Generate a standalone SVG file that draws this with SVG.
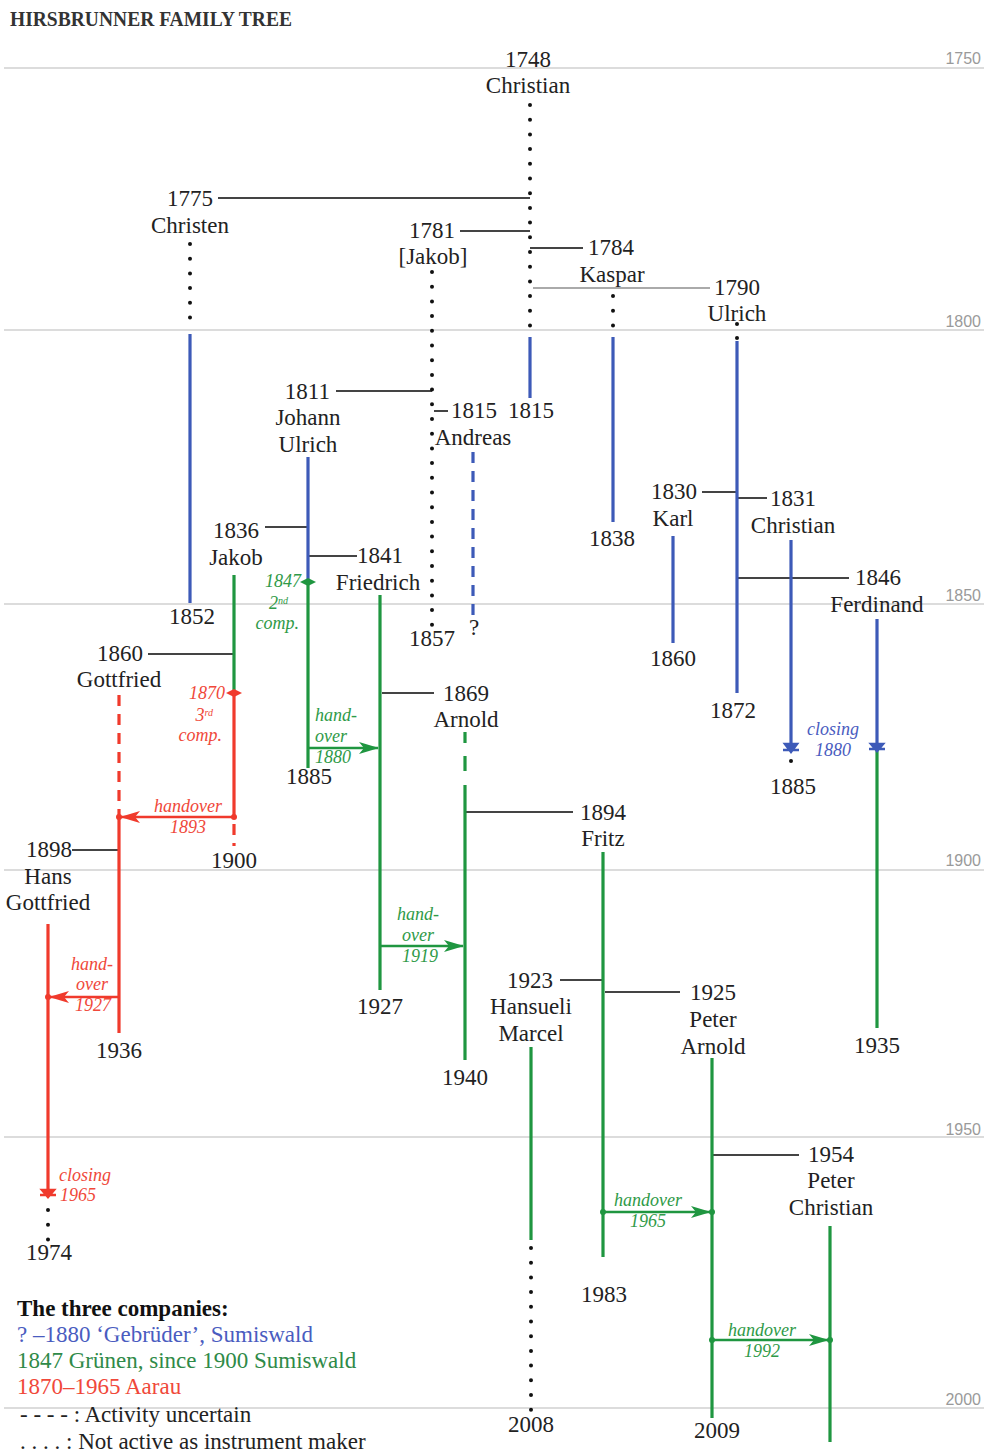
<svg xmlns="http://www.w3.org/2000/svg" width="984" height="1452" viewBox="0 0 984 1452">
<style>
.t{font-family:"Liberation Serif",serif;font-size:23px;fill:#222}
.m{text-anchor:middle}.e{text-anchor:end}
.i{font-family:"Liberation Serif",serif;font-style:italic;font-size:18px}
.gi{fill:#2f9a48}.ri{fill:#f0483a}.bi{fill:#4a5cc0}
.ax{font-family:"Liberation Sans",sans-serif;font-size:16px;fill:#9a9a9a;text-anchor:end}
.grid{stroke:#dcdcdc;stroke-width:2}
.c{stroke:#444;stroke-width:2;fill:none}
.b{stroke:#3d5ab8;stroke-width:3.2;fill:none}
.g{stroke:#1f9640;stroke-width:3.2;fill:none}
.r{stroke:#f03a2c;stroke-width:3.2;fill:none}
.d{stroke:#111;stroke-width:4;stroke-linecap:round;stroke-dasharray:0 14.7;fill:none}
.bd{stroke:#3d5ab8;stroke-width:3.2;stroke-dasharray:11 8;fill:none}
.rd{stroke:#f03a2c;stroke-width:3.2;stroke-dasharray:11 8;fill:none}
.ga{stroke:#1f9640;stroke-width:2.5;fill:none;marker-end:url(#ag)}
.ra{stroke:#f03a2c;stroke-width:2.5;fill:none;marker-end:url(#ar)}
</style>
<defs>
<marker id="ag" viewBox="0 0 20 12" refX="19" refY="6" markerWidth="20" markerHeight="12" markerUnits="userSpaceOnUse" orient="auto"><path d="M0,0 L20,6 L0,12 L5,6 Z" fill="#1f9640"/></marker>
<marker id="ar" viewBox="0 0 20 12" refX="19" refY="6" markerWidth="20" markerHeight="12" markerUnits="userSpaceOnUse" orient="auto"><path d="M0,0 L20,6 L0,12 L5,6 Z" fill="#f03a2c"/></marker>
</defs>
<rect width="984" height="1452" fill="#fff"/>
<text x="10" y="26" font-family="Liberation Serif,serif" font-weight="bold" font-size="20" fill="#333" textLength="282" lengthAdjust="spacingAndGlyphs">HIRSBRUNNER FAMILY TREE</text>
<g id="axis">
<line class="grid" x1="4" y1="68" x2="984" y2="68"/><text class="ax" x="981" y="64">1750</text>
<line class="grid" x1="4" y1="330" x2="984" y2="330"/><text class="ax" x="981" y="327">1800</text>
<line class="grid" x1="4" y1="604" x2="984" y2="604"/><text class="ax" x="981" y="601">1850</text>
<line class="grid" x1="4" y1="870" x2="984" y2="870"/><text class="ax" x="981" y="866">1900</text>
<line class="grid" x1="4" y1="1137" x2="984" y2="1137"/><text class="ax" x="981" y="1135">1950</text>
<line class="grid" x1="4" y1="1408" x2="984" y2="1408"/><text class="ax" x="981" y="1405">2000</text>
</g>
<g id="connectors">
<line class="c" x1="218" y1="198" x2="530" y2="198"/>
<line class="c" x1="460" y1="231" x2="530" y2="231"/>
<line class="c" x1="530" y1="248" x2="583" y2="248"/>
<line stroke="#aaa" stroke-width="2" x1="533" y1="288" x2="710" y2="288"/>
<line class="c" x1="336" y1="391" x2="432" y2="391"/>
<line class="c" x1="434" y1="411" x2="448" y2="411"/>
<line class="c" x1="702" y1="492" x2="737" y2="492"/>
<line class="c" x1="737" y1="498" x2="767" y2="498"/>
<line class="c" x1="737" y1="578" x2="849" y2="578"/>
<line class="c" x1="265" y1="527" x2="308" y2="527"/>
<line class="c" x1="308" y1="556" x2="357" y2="556"/>
<line class="c" x1="148" y1="654" x2="234" y2="654"/>
<line class="c" x1="382" y1="693" x2="434" y2="693"/>
<line class="c" x1="465" y1="812" x2="573" y2="812"/>
<line class="c" x1="72" y1="850" x2="119" y2="850"/>
<line class="c" x1="560" y1="980" x2="603" y2="980"/>
<line class="c" x1="605" y1="992" x2="680" y2="992"/>
<line class="c" x1="712" y1="1155" x2="799" y2="1155"/>
<line class="ra" x1="234" y1="817" x2="121" y2="817"/><circle cx="234" cy="817" r="3" fill="#f03a2c"/><circle cx="119" cy="817" r="3" fill="#f03a2c"/>
<line class="ga" x1="308" y1="748" x2="378" y2="748"/>
<line class="ga" x1="380" y1="946" x2="463" y2="946"/>
<line class="ra" x1="119" y1="997" x2="50" y2="997"/><circle cx="48" cy="997" r="3" fill="#f03a2c"/>
<line class="ga" x1="603" y1="1212" x2="710" y2="1212"/><circle cx="603" cy="1212" r="3" fill="#1f9640"/><circle cx="712" cy="1212" r="3" fill="#1f9640"/>
<line class="ga" x1="712" y1="1340" x2="828" y2="1340"/><circle cx="712" cy="1340" r="3" fill="#1f9640"/><circle cx="830" cy="1340" r="3" fill="#1f9640"/>
</g>
<g id="christian-1748">
<text class="t m" x="528" y="67">1748</text><text class="t m" x="528" y="93">Christian</text>
<line class="d" x1="530" y1="105" x2="530" y2="330"/>
<line class="b" x1="530" y1="337" x2="530" y2="398"/>
<text class="t m" x="531" y="418">1815</text>
</g>
<g id="christen-1775">
<text class="t e" x="213" y="206">1775</text><text class="t m" x="190" y="233">Christen</text>
<line class="d" x1="190" y1="244" x2="190" y2="330"/>
<line class="b" x1="190" y1="334" x2="190" y2="603"/>
<text class="t m" x="192" y="624">1852</text>
</g>
<g id="jakob-1781">
<text class="t e" x="455" y="238">1781</text><text class="t m" x="433" y="264">[Jakob]</text>
<line class="d" x1="432" y1="272" x2="432" y2="626"/>
<text class="t m" x="432" y="646">1857</text>
</g>
<g id="kaspar-1784">
<text class="t" x="588" y="255">1784</text><text class="t m" x="612" y="282">Kaspar</text>
<line class="d" x1="613" y1="296" x2="613" y2="326"/>
<line class="b" x1="613" y1="337" x2="613" y2="522"/>
<text class="t m" x="612" y="546">1838</text>
</g>
<g id="ulrich-1790">
<text class="t" x="714" y="295">1790</text><text class="t m" x="737" y="321">Ulrich</text>
<circle cx="737" cy="324" r="2" fill="#111"/><circle cx="737" cy="338" r="2" fill="#111"/>
<line class="b" x1="737" y1="341" x2="737" y2="693"/>
<text class="t m" x="733" y="718">1872</text>
</g>
<g id="johann-ulrich-1811">
<text class="t e" x="330" y="399">1811</text><text class="t m" x="308" y="425">Johann</text><text class="t m" x="308" y="452">Ulrich</text>
<line class="b" x1="308" y1="457" x2="308" y2="582"/>
<line class="g" x1="308" y1="582" x2="308" y2="768"/>
<polygon points="300,582 308,578 316,582 308,586" fill="#1f9640"/>
<text class="i gi" x="301" y="587" text-anchor="end">1847</text>
<text class="i gi" x="288" y="609" text-anchor="end">2<tspan font-size="10" dy="-5">nd</tspan></text>
<text class="i gi" x="299" y="629" text-anchor="end">comp.</text>
<text class="t m" x="309" y="784">1885</text>
</g>
<g id="andreas-1815">
<text class="t" x="451" y="418">1815</text><text class="t m" x="473" y="445">Andreas</text>
<line class="bd" x1="473" y1="452" x2="473" y2="615"/>
<text class="t m" x="474" y="635">?</text>
</g>
<g id="karl-1830">
<text class="t e" x="697" y="499">1830</text><text class="t m" x="673" y="526">Karl</text>
<line class="b" x1="673" y1="536" x2="673" y2="643"/>
<text class="t m" x="673" y="666">1860</text>
</g>
<g id="christian-1831">
<text class="t" x="770" y="506">1831</text><text class="t m" x="793" y="533">Christian</text>
<line class="b" x1="791" y1="540" x2="791" y2="750"/>
<path d="M783,750 L799,750 M785,744 L791,752 L797,744 Z" stroke="#3d5ab8" stroke-width="2.5" fill="#3d5ab8"/>
<circle cx="791" cy="761" r="2" fill="#111"/>
<text class="i bi m" x="833" y="735">closing</text><text class="i bi m" x="833" y="756">1880</text>
<text class="t m" x="793" y="794">1885</text>
</g>
<g id="ferdinand-1846">
<text class="t" x="855" y="585">1846</text><text class="t m" x="877" y="612">Ferdinand</text>
<line class="b" x1="877" y1="619" x2="877" y2="749"/>
<line class="g" x1="877" y1="749" x2="877" y2="1028"/>
<path d="M869,749 L885,749 M871,744 L877,751 L883,744 Z" stroke="#3d5ab8" stroke-width="2.5" fill="#3d5ab8"/>
<text class="t m" x="877" y="1053">1935</text>
</g>
<g id="jakob-1836">
<text class="t e" x="259" y="538">1836</text><text class="t m" x="236" y="565">Jakob</text>
<line class="g" x1="234" y1="575" x2="234" y2="693"/>
<line class="r" x1="234" y1="693" x2="234" y2="817"/>
<line class="rd" x1="234" y1="824" x2="234" y2="846"/>
<polygon points="226,693 234,689 242,693 234,697" fill="#f03a2c"/>
<text class="i ri" x="225" y="699" text-anchor="end">1870</text>
<text class="i ri" x="213" y="721" text-anchor="end">3<tspan font-size="10" dy="-5">rd</tspan></text>
<text class="i ri" x="222" y="741" text-anchor="end">comp.</text>
<text class="i ri m" x="188" y="812">handover</text><text class="i ri m" x="188" y="833">1893</text>
<text class="t m" x="234" y="868">1900</text>
</g>
<g id="friedrich-1841">
<text class="t" x="357" y="563">1841</text><text class="t m" x="378" y="590">Friedrich</text>
<line class="g" x1="380" y1="595" x2="380" y2="990"/>
<text class="i gi" x="315" y="721">hand-</text><text class="i gi" x="315" y="742">over</text><text class="i gi" x="315" y="763">1880</text>
<text class="i gi m" x="418" y="920">hand-</text><text class="i gi m" x="418" y="941">over</text><text class="i gi m" x="420" y="962">1919</text>
<text class="t m" x="380" y="1014">1927</text>
</g>
<g id="gottfried-1860">
<text class="t e" x="143" y="661">1860</text><text class="t m" x="119" y="687">Gottfried</text>
<line class="rd" x1="119" y1="695" x2="119" y2="815"/>
<line class="r" x1="119" y1="817" x2="119" y2="1033"/>
<text class="i ri m" x="92" y="970">hand-</text><text class="i ri m" x="92" y="990">over</text><text class="i ri m" x="93" y="1011">1927</text>
<text class="t m" x="119" y="1058">1936</text>
</g>
<g id="arnold-1869">
<text class="t" x="443" y="701">1869</text><text class="t m" x="466" y="727">Arnold</text>
<line class="g" x1="465" y1="732" x2="465" y2="743"/>
<line class="g" x1="465" y1="756" x2="465" y2="771"/>
<line class="g" x1="465" y1="785" x2="465" y2="1060"/>
<text class="t m" x="465" y="1085">1940</text>
</g>
<g id="fritz-1894">
<text class="t" x="580" y="820">1894</text><text class="t m" x="603" y="846">Fritz</text>
<line class="g" x1="603" y1="852" x2="603" y2="1257"/>
<text class="i gi m" x="648" y="1206">handover</text><text class="i gi m" x="648" y="1227">1965</text>
<text class="t m" x="604" y="1302">1983</text>
</g>
<g id="hans-gottfried-1898">
<text class="t e" x="72" y="857">1898</text><text class="t m" x="48" y="884">Hans</text><text class="t m" x="48" y="910">Gottfried</text>
<line class="r" x1="48" y1="924" x2="48" y2="1195"/>
<path d="M40,1195 L56,1195 M42,1190 L48,1197 L54,1190 Z" stroke="#f03a2c" stroke-width="2.5" fill="#f03a2c"/>
<line class="d" x1="48" y1="1210" x2="48" y2="1240"/>
<text class="i ri" x="59" y="1181">closing</text><text class="i ri" x="60" y="1201">1965</text>
<text class="t m" x="49" y="1260">1974</text>
</g>
<g id="hansueli-marcel-1923">
<text class="t e" x="553" y="988">1923</text><text class="t m" x="531" y="1014">Hansueli</text><text class="t m" x="531" y="1041">Marcel</text>
<line class="g" x1="531" y1="1047" x2="531" y2="1240"/>
<line class="d" x1="531" y1="1248" x2="531" y2="1410"/>
<text class="t m" x="531" y="1432">2008</text>
</g>
<g id="peter-arnold-1925">
<text class="t" x="690" y="1000">1925</text><text class="t m" x="713" y="1027">Peter</text><text class="t m" x="713" y="1054">Arnold</text>
<line class="g" x1="712" y1="1058" x2="712" y2="1418"/>
<text class="i gi m" x="762" y="1336">handover</text><text class="i gi m" x="762" y="1357">1992</text>
<text class="t m" x="717" y="1438">2009</text>
</g>
<g id="peter-christian-1954">
<text class="t" x="808" y="1162">1954</text><text class="t m" x="831" y="1188">Peter</text><text class="t m" x="831" y="1215">Christian</text>
<line class="g" x1="830" y1="1226" x2="830" y2="1442"/>
</g>
<g id="legend">
<text class="t" x="17" y="1316" font-weight="bold" style="fill:#111">The three companies:</text>
<text class="t" x="17" y="1342" style="fill:#4a5cc0">? –1880 ‘Gebrüder’, Sumiswald</text>
<text class="t" x="17" y="1368" style="fill:#2f8a48">1847 Grünen, since 1900 Sumiswald</text>
<text class="t" x="17" y="1394" style="fill:#f0483a">1870–1965 Aarau</text>
<text class="t" x="20" y="1422">- - - - : Activity uncertain</text>
<text class="t" x="20" y="1449">. . . . : Not active as instrument maker</text>
</g>
</svg>
